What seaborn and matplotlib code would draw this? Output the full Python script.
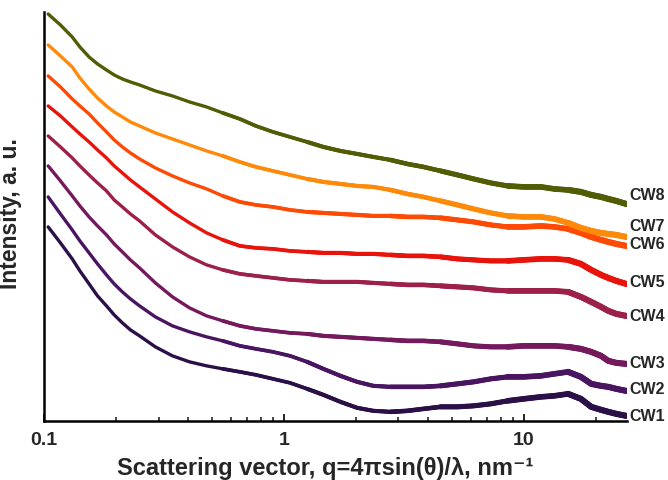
import pandas as pd
import numpy as np
import matplotlib
matplotlib.use("Agg")
import matplotlib.pyplot as plt
import seaborn as sns
from matplotlib.ticker import LogLocator, FixedLocator, FixedFormatter

# scattering vector, nm^-1
q = [0.104, 0.117, 0.131, 0.141, 0.154, 0.167, 0.182, 0.196, 0.212, 0.229,
     0.250, 0.291, 0.343, 0.404, 0.476, 0.556, 0.655, 0.764, 0.90, 1.06,
     1.25, 1.46, 1.72, 2.02, 2.36, 2.78, 3.27, 3.82, 4.50, 5.29,
     6.18, 7.28, 8.57, 10.0, 11.8, 13.4, 15.3, 17.3, 19.1, 21.0,
     22.5, 24.3, 26.7]

# intensity, a.u. (curves are offset vertically)
cw8 = [407, 396, 384, 374, 364, 357, 351, 346, 342, 339,
       336, 330, 325, 319, 314, 308, 302, 295, 289, 284,
       279, 274, 270, 267, 264, 261, 257, 254, 250, 246,
       242, 238, 235, 234, 234, 232, 231, 229, 226, 224,
       222, 220, 217]
cw7 = [376, 365, 354, 343, 332, 323, 315, 309, 304, 299,
       295, 288, 282, 276, 270, 265, 259, 254, 250, 246,
       242, 239, 237, 235, 234, 231, 227, 224, 220, 216,
       212, 208, 205, 204, 204, 202, 198, 193, 190, 188,
       187, 186, 184]
cw6 = [345, 334, 322, 315, 307, 298, 289, 281, 274, 268,
       262, 253, 245, 238, 232, 225, 219, 216, 214, 211,
       209, 208, 207, 206, 205, 205, 204, 204, 203, 201,
       199, 196, 194, 194, 195, 194, 192, 188, 184, 181,
       179, 177, 175]
cw5 = [315, 305, 294, 287, 279, 271, 263, 255, 248, 241,
       234, 222, 209, 198, 188, 181, 175, 173, 172, 170,
       169, 168, 168, 167, 167, 166, 165, 165, 164, 162,
       161, 160, 160, 161, 162, 162, 161, 157, 151, 146,
       143, 140, 137]
cw4 = [285, 274, 263, 255, 246, 238, 230, 221, 214, 207,
       200, 186, 174, 164, 156, 151, 147, 145, 143, 141,
       140, 139, 139, 139, 138, 137, 136, 136, 135, 134,
       133, 131, 130, 130, 130, 130, 129, 124, 119, 114,
       110, 107, 105]
cw3 = [255, 240, 225, 215, 204, 195, 186, 177, 169, 161,
       153, 138, 124, 113, 105, 100, 95, 92, 90, 88,
       87, 85, 84, 83, 82, 81, 80, 80, 79, 77,
       75, 74, 74, 75, 75, 75, 74, 72, 69, 65,
       60, 58, 57]
cw2 = [224, 207, 191, 180, 168, 157, 146, 137, 129, 122,
       115, 104, 95, 89, 84, 80, 75, 72, 69, 65,
       59, 52, 45, 39, 35, 34, 34, 34, 35, 37,
       39, 42, 44, 44, 45, 47, 49, 44, 37, 35,
       34, 32, 30]
cw1 = [194, 178, 162, 150, 137, 125, 115, 106, 98, 91,
       85, 74, 65, 59, 55, 52, 49, 46, 42, 38,
       32, 26, 19, 13, 10, 9, 10, 12, 14, 14,
       15, 17, 20, 22, 24, 25, 27, 22, 14, 11,
       9, 7, 5]

samples = ["CW1", "CW2", "CW3", "CW4", "CW5", "CW6", "CW7", "CW8"]
curves = [cw1, cw2, cw3, cw4, cw5, cw6, cw7, cw8]
colors = ["#2b1048", "#4a1560", "#741a5c", "#9c2049", "#e8140c",
          "#ff4a05", "#ff8a0a", "#525c05"]
label_nudge = [0, 2, 1, 0, 2, 2, 11, 9]

df = pd.concat([pd.DataFrame({"q": q, "I": c, "sample": s})
                for s, c in zip(samples, curves)], ignore_index=True)
pal = dict(zip(samples, colors))

sns.set_theme(style="ticks")
plt.rcParams["font.family"] = ["Liberation Sans", "DejaVu Sans"]

fig = plt.figure(figsize=(6.68, 4.81), dpi=100)
ax = fig.add_axes([0.066, 0.123, 0.873, 0.850])

# noisy high-q tail looks thicker in the original, so widen the line there
for qmin, lw in [(0, 2.4), (0.5, 2.7), (1.2, 3.0), (2.4, 3.3),
                 (4.5, 3.7), (8.5, 4.1), (15, 4.4)]:
    sns.lineplot(data=df[df["q"] >= qmin], x="q", y="I", hue="sample",
                 hue_order=samples, palette=pal, linewidth=lw,
                 legend=False, ax=ax)

ax.set_xscale("log")
ax.set_xlim(0.1, 27)
ax.set_ylim(0, 409)
ax.set_yticks([])

ax.xaxis.set_major_locator(FixedLocator([0.1, 1, 10]))
ax.xaxis.set_major_formatter(FixedFormatter(["0.1", "1", "10"]))
ax.xaxis.set_minor_locator(LogLocator(base=10, subs=np.arange(2, 10)))
ax.tick_params(axis="x", which="major", direction="in", length=5, width=1.4,
               labelsize=14, pad=7)
ax.tick_params(axis="x", which="minor", direction="in", length=3, width=1.2)
for lab in ax.get_xticklabels():
    lab.set_fontweight("bold")

for side in ["top", "right"]:
    ax.spines[side].set_visible(False)
for side in ["left", "bottom"]:
    ax.spines[side].set_linewidth(1.8)
    ax.spines[side].set_color("black")

for s, c, n in zip(samples, curves, label_nudge):
    ax.text(27.6, c[-1] + n, s, fontsize=11.5, fontweight="bold",
            va="center", ha="left", clip_on=False)

ax.set_xlabel("Scattering vector, q=4\u03c0sin(\u03b8)/\u03bb, nm\u207b\u00b9",
              fontsize=17, fontweight="bold")
ax.xaxis.set_label_coords(0.482, -0.085)
ax.set_ylabel("Intensity, a. u.", fontsize=16.5, fontweight="bold")
ax.yaxis.set_label_coords(-0.038, 0.51)

fig.savefig("out.png", dpi=100)
plt.close(fig)
